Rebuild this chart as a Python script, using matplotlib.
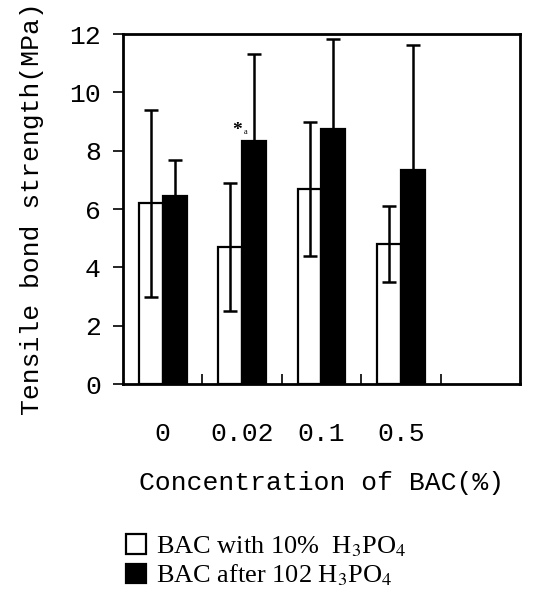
import numpy as np
import matplotlib
matplotlib.use('Agg')
import matplotlib.pyplot as plt

# data
categories = ['0', '0.02', '0.1', '0.5']
with_acid = [6.2, 4.7, 6.7, 4.8]
with_acid_err = [3.2, 2.2, 2.3, 1.3]
after_acid = [6.45, 8.33, 8.74, 7.34]
after_acid_err = [1.25, 3.0, 3.1, 4.3]
label_with = r'BAC with 10%  H$_3$PO$_4$'
label_after = r'BAC after 102 H$_3$PO$_4$'

plt.rcParams['mathtext.fontset'] = 'stix'
mono = 'Liberation Mono'
serif = 'Liberation Serif'

fig = plt.figure(figsize=(5.36, 5.89), dpi=100)
ax = fig.add_axes([0.2295, 0.348, 0.7405, 0.594])

x = np.arange(len(categories)) + 0.5
w = 0.3
ek = dict(ecolor='black', elinewidth=1.8, capsize=5, capthick=1.8)

b1 = ax.bar(x - w / 2, with_acid, w, color='white', edgecolor='black',
            linewidth=1.6, yerr=with_acid_err, error_kw=ek, label=label_with)
b2 = ax.bar(x + w / 2, after_acid, w, color='black', edgecolor='black',
            linewidth=1.6, yerr=after_acid_err, error_kw=ek, label=label_after)

# significance mark
ax.text(x[1] - 0.06, after_acid[1] + 0.35, '*', fontsize=14, fontweight='bold',
        ha='center', va='center', family=serif)
ax.text(x[1] + 0.04, after_acid[1] + 0.3, 'a', fontsize=6,
        ha='center', va='center', family=serif)

ax.set_xlim(0, 5)
ax.set_ylim(0, 12)
ax.set_yticks(np.arange(0, 13, 2))
ax.set_yticklabels([str(v) for v in range(0, 13, 2)], family=mono, fontsize=19)
ax.tick_params(axis='y', direction='out', length=7, width=1.2, pad=9)

# category boundary ticks (inward, no labels) and labels at the centres
ax.set_xticks([1, 2, 3, 4])
ax.set_xticklabels([])
ax.tick_params(axis='x', which='major', direction='in', length=7, width=1.2)
ax.set_xticks(x, minor=True)
ax.set_xticklabels(categories, minor=True, family=mono, fontsize=19)
ax.tick_params(axis='x', which='minor', length=0, pad=27)

for s in ax.spines.values():
    s.set_linewidth(2)

ax.set_xlabel('Concentration of BAC(%)', family=mono, fontsize=19, labelpad=18)
ax.set_ylabel('Tensile bond strength(MPa)', family=mono, fontsize=19)
ax.yaxis.set_label_coords(-0.2, 0.5)

fig.legend(handles=[b1, b2], loc='upper left', bbox_to_anchor=(0.215, 0.111),
           frameon=False, prop={'family': serif, 'size': 19},
           handlelength=0.75, handleheight=0.75, handletextpad=0.4,
           labelspacing=0.15, borderaxespad=0)

fig.savefig('out.png', dpi=100)
